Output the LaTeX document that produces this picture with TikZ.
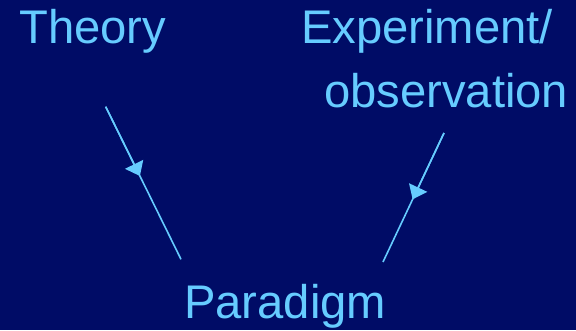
\documentclass[tikz,border=0pt]{standalone}
\usepackage{fontspec}
\setmainfont{Liberation Sans}
\usetikzlibrary{arrows.meta,calc}
\definecolor{slidebg}{HTML}{000C66}
\definecolor{slidefg}{HTML}{66CCFF}

\begin{document}
\begin{tikzpicture}[x=1pt,y=-1pt,
    word/.style={text=slidefg, inner sep=0pt, anchor=base west,
        font=\fontsize{47.2}{56}\selectfont},
    link/.style={draw=slidefg, line width=1.6pt},
    head/.style={-{Triangle[length=13pt,width=20pt]}}]
        \fill[slidebg] (0,0) rectangle (576,330);
        \node[word] (thy) at (19,43) {Theory};
        \node[word] (exp) at (301,43) {Experiment/};
        \node[word] (obs) at (324,107) {observation};
        \node[word] (par) at (184,318) {Paradigm};
        \coordinate (A) at (105.7,106.7); \coordinate (B) at (181,259.3);
        \coordinate (C) at (444,133); \coordinate (D) at (383,262);
        \draw[link] (A)--(B); \draw[link] (C)--(D);
        % arrow heads sit about half way down each line
        \draw[link, head] (A)--($(A)!0.454!(B)$);
        \draw[link, head] (C)--($(C)!0.514!(D)$);
    \end{tikzpicture}
\end{document}
